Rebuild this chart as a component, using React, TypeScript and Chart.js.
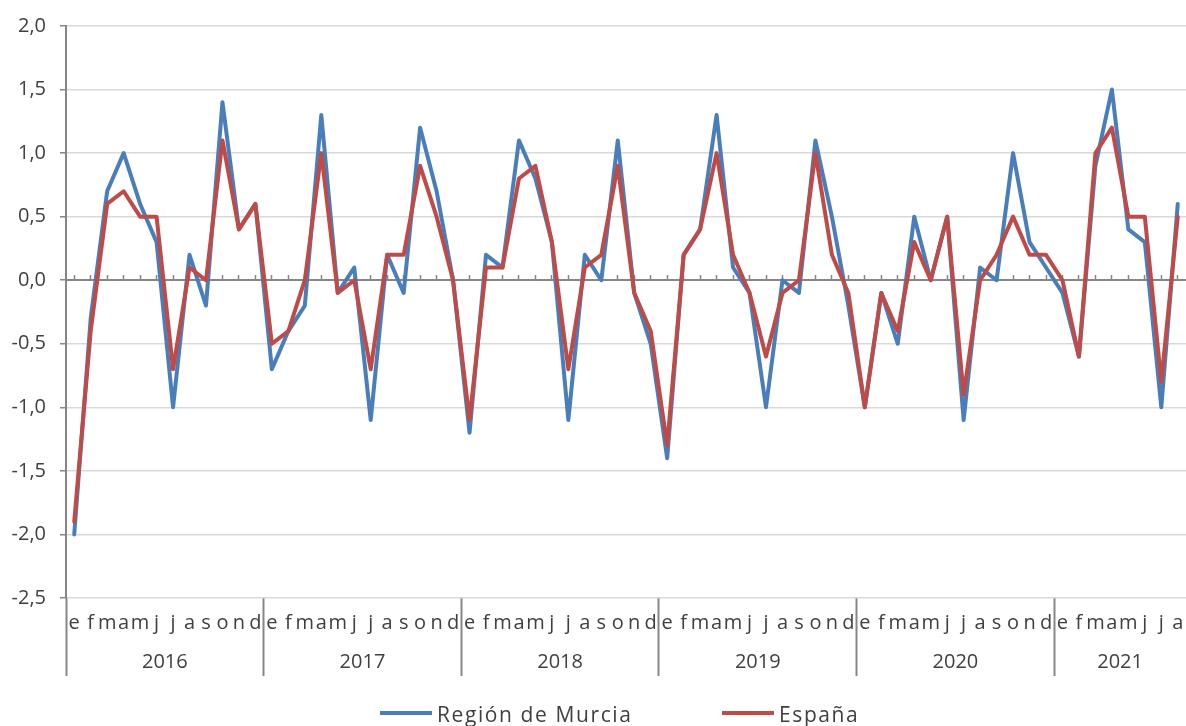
import React, { useEffect, useRef } from "react";
import { Chart, registerables } from "chart.js";

Chart.register(...registerables);

// ---- data ----
const years = ["2016", "2017", "2018", "2019", "2020", "2021"];
const monthLetters = ["e", "f", "m", "a", "m", "j", "j", "a", "s", "o", "n", "d"];
const monthsPerYear = [12, 12, 12, 12, 12, 8];

const murcia = [
  -2.0, -0.3, 0.7, 1.0, 0.6, 0.3, -1.0, 0.2, -0.2, 1.4, 0.4, 0.6,
  -0.7, -0.4, -0.2, 1.3, -0.1, 0.1, -1.1, 0.2, -0.1, 1.2, 0.7, 0.0,
  -1.2, 0.2, 0.1, 1.1, 0.8, 0.3, -1.1, 0.2, 0.0, 1.1, -0.1, -0.5,
  -1.4, 0.2, 0.4, 1.3, 0.1, -0.1, -1.0, 0.0, -0.1, 1.1, 0.5, -0.2,
  -1.0, -0.1, -0.5, 0.5, 0.0, 0.5, -1.1, 0.1, 0.0, 1.0, 0.3, 0.1,
  -0.1, -0.6, 0.9, 1.5, 0.4, 0.3, -1.0, 0.6,
];

const espana = [
  -1.9, -0.4, 0.6, 0.7, 0.5, 0.5, -0.7, 0.1, 0.0, 1.1, 0.4, 0.6,
  -0.5, -0.4, 0.0, 1.0, -0.1, 0.0, -0.7, 0.2, 0.2, 0.9, 0.5, 0.0,
  -1.1, 0.1, 0.1, 0.8, 0.9, 0.3, -0.7, 0.1, 0.2, 0.9, -0.1, -0.4,
  -1.3, 0.2, 0.4, 1.0, 0.2, -0.1, -0.6, -0.1, 0.0, 1.0, 0.2, -0.1,
  -1.0, -0.1, -0.4, 0.3, 0.0, 0.5, -0.9, 0.0, 0.2, 0.5, 0.2, 0.2,
  0.0, -0.6, 1.0, 1.2, 0.5, 0.5, -0.8, 0.5,
];

const seriesNames = ["Región de Murcia", "España"];
const seriesColors = ["#4A7EBB", "#BE4B48"];
const yMin = -2.5;
const yMax = 2.0;
const yStep = 0.5;

// ---- derived ----
const categories: string[] = [];
years.forEach((_, yi) => {
  for (let m = 0; m < monthsPerYear[yi]; m++) categories.push(monthLetters[m]);
});
const yearCenters: number[] = [];
{
  let start = 0;
  monthsPerYear.forEach((n) => {
    yearCenters.push(start + (n - 1) / 2);
    start += n;
  });
}

const FONT = "'Open Sans', sans-serif";
const TEXT = "#404040";
const AXIS = "#868686";
const GRID = "#D9D9D9";

export default function App() {
  const ref = useRef<HTMLCanvasElement | null>(null);

  useEffect(() => {
    if (!ref.current) return;
    const chart = new Chart(ref.current, {
      type: "line",
      data: {
        labels: categories,
        datasets: [
          {
            label: seriesNames[0],
            data: murcia,
            borderColor: seriesColors[0],
            backgroundColor: seriesColors[0],
            borderWidth: 4,
            pointRadius: 0,
            tension: 0,
            order: 1,
            borderJoinStyle: "round",
            borderCapStyle: "round",
          },
          {
            label: seriesNames[1],
            data: espana,
            borderColor: seriesColors[1],
            backgroundColor: seriesColors[1],
            borderWidth: 4,
            pointRadius: 0,
            tension: 0,
            order: 0,
            borderJoinStyle: "round",
            borderCapStyle: "round",
          },
        ],
      },
      options: {
        responsive: false,
        animation: false,
        events: [],
        layout: { padding: { top: 23, right: 0, bottom: 48, left: 0 } },
        plugins: { legend: { display: false }, tooltip: { enabled: false } },
        scales: {
          x: {
            type: "category",
            position: "bottom",
            offset: true,
            weight: 0,
            grid: {
              display: true,
              drawOnChartArea: false,
              drawTicks: true,
              offset: true,
              tickLength: 78,
              tickWidth: 2,
              tickColor: (ctx: any) =>
                typeof ctx.index === "number" && ctx.index % 12 === 0 ? AXIS : "rgba(0,0,0,0)",
            },
            border: { display: false },
            ticks: {
              autoSkip: false,
              maxRotation: 0,
              minRotation: 0,
              padding: -65,
              color: TEXT,
              font: { family: FONT, size: 20 },
            },
            afterFit: (s: any) => {
              s.height = 40;
            },
          },
          years: {
            type: "linear",
            position: "bottom",
            weight: 1,
            min: -0.5,
            max: categories.length - 0.5,
            afterBuildTicks: (s: any) => {
              s.ticks = yearCenters.map((v) => ({ value: v }));
            },
            grid: { display: false, drawTicks: false },
            border: { display: false },
            ticks: {
              autoSkip: false,
              maxRotation: 0,
              minRotation: 0,
              padding: 12,
              color: TEXT,
              font: { family: FONT, size: 20 },
              callback: (_v: any, i: number) => years[i],
            },
            afterFit: (s: any) => {
              s.height = 40;
            },
          },
          xz: {
            type: "category",
            position: { y: 0 },
            offset: true,
            grid: {
              display: true,
              drawOnChartArea: false,
              drawTicks: true,
              offset: false,
              tickLength: -6,
              tickColor: AXIS,
              tickWidth: 1.5,
            },
            border: { display: true, color: AXIS, width: 2 },
            ticks: { display: false },
          },
          y: {
            type: "linear",
            min: yMin,
            max: yMax,
            ticks: {
              stepSize: yStep,
              padding: 14,
              color: TEXT,
              font: { family: FONT, size: 20 },
              callback: (v: any) => Number(v).toFixed(1).replace(".", ","),
            },
            grid: {
              color: (ctx: any) =>
                ctx.tick && Math.abs(ctx.tick.value) < 1e-9 ? "rgba(0,0,0,0)" : GRID,
              lineWidth: 1.5,
              tickLength: 6,
              tickColor: AXIS,
              tickWidth: 1.5,
            },
            border: { display: true, color: AXIS, width: 2 },
            afterFit: (s: any) => {
              s.width = 66;
            },
          },
        },
      } as any,
    });
    return () => chart.destroy();
  }, []);

  const legendItems = [
    { swatch: 380, text: 437 },
    { swatch: 722, text: 779 },
  ];

  return (
    <div style={{ position: "absolute", left: 0, top: 0, width: 1186, height: 726, overflow: "hidden", background: "#fff" }}>
      <canvas ref={ref} width={1186} height={726} style={{ display: "block", width: 1186, height: 726 }} />
      {legendItems.map((it, i) => (
        <React.Fragment key={i}>
          <div
            style={{
              position: "absolute",
              left: it.swatch,
              top: 711,
              width: 52,
              height: 4,
              background: seriesColors[i],
            }}
          />
          <div
            style={{
              position: "absolute",
              left: it.text,
              top: 704,
              fontFamily: FONT,
              fontSize: 21,
              lineHeight: "21px",
              letterSpacing: "1.6px",
              color: TEXT,
              whiteSpace: "nowrap",
            }}
          >
            {seriesNames[i]}
          </div>
        </React.Fragment>
      ))}
    </div>
  );
}
